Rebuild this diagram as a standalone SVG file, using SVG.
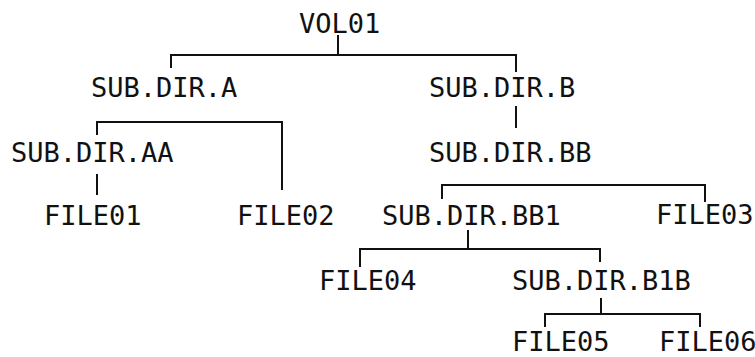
<svg xmlns="http://www.w3.org/2000/svg" width="755" height="357" viewBox="0 0 755 357">
<style>
.t{font-family:"DejaVu Sans Mono","Liberation Mono",monospace;font-size:27px;fill:#111}
.c{stroke:#111;stroke-width:2;fill:none}
</style>
<rect width="755" height="357" fill="#fff"/>
<g id="connectors">
<path class="c" d="M338,35V55M171,68V55H516V72"/>
<path class="c" d="M516,106V128"/>
<path class="c" d="M97,135V122H282V190"/>
<path class="c" d="M97,174V195"/>
<path class="c" d="M442,199V185H705V202"/>
<path class="c" d="M468,230V249M360,267V249H600V262"/>
<path class="c" d="M601,298V314M545,327V314H700V327"/>
</g>
<g id="vol01"><text class="t" x="299" y="33">VOL01</text></g>
<g id="subdira"><text class="t" x="91" y="97">SUB.DIR.A</text></g>
<g id="subdirb"><text class="t" x="429" y="97">SUB.DIR.B</text></g>
<g id="subdiraa"><text class="t" x="11" y="162">SUB.DIR.AA</text></g>
<g id="subdirbb"><text class="t" x="429" y="162">SUB.DIR.BB</text></g>
<g id="file01"><text class="t" x="44" y="225">FILE01</text></g>
<g id="file02"><text class="t" x="237" y="225">FILE02</text></g>
<g id="subdirbb1"><text class="t" x="382" y="225">SUB.DIR.BB1</text></g>
<g id="file03"><text class="t" x="656" y="224">FILE03</text></g>
<g id="file04"><text class="t" x="319" y="290">FILE04</text></g>
<g id="subdirb1b"><text class="t" x="512" y="290">SUB.DIR.B1B</text></g>
<g id="file05"><text class="t" x="512" y="351">FILE05</text></g>
<g id="file06"><text class="t" x="659" y="351">FILE06</text></g>
</svg>
